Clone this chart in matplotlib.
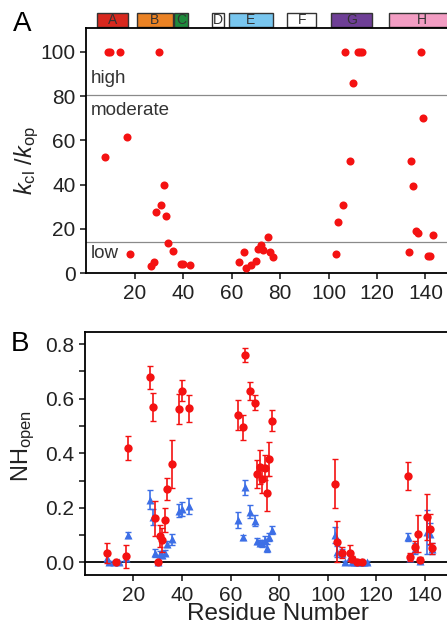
import matplotlib
matplotlib.use("Agg")
import matplotlib.pyplot as plt
from matplotlib.patches import Rectangle
from matplotlib.ticker import MultipleLocator

plt.rcParams['font.family'] = ['Liberation Sans', 'DejaVu Sans']
plt.rcParams['mathtext.fontset'] = 'custom'
plt.rcParams['mathtext.rm'] = 'Liberation Sans'
plt.rcParams['mathtext.it'] = 'Liberation Sans:italic'

# helix segments (start, end residue)
helix_names = ['A', 'B', 'C', 'D', 'E', 'F', 'G', 'H']
helix_start = [4.5, 21, 36.3, 52, 59, 83, 101, 125]
helix_end = [17.3, 35.9, 42, 57, 77, 95, 118, 152]
helix_colors = ['#d8281e', '#ea8224', '#1e8a3c', '#ffffff', '#78c6ef', '#ffffff', '#6e3f96', '#f29dc3']

# panel A: kcl/kop per residue
kratio_res = [8, 9, 10, 14, 17, 18, 27, 28, 29, 30, 31, 32, 33, 34, 36, 39, 40, 43,
              63, 65, 66, 68, 70, 71, 72, 73, 75, 76, 77,
              103, 104, 106, 107, 109, 110, 112, 113, 114,
              133, 134, 135, 136, 137, 138, 139, 141, 142, 143]
kratio_val = [52.7, 100, 100, 100, 61.4, 8.9, 3.3, 5.1, 27.5, 100, 31, 40, 26, 13.7, 10, 4, 4, 3.7,
              5.3, 9.6, 2.6, 3.9, 5.5, 11.1, 12.6, 10.4, 16.4, 9.6, 7.3,
              8.9, 23.1, 30.8, 100, 50.5, 85.9, 100, 100, 100,
              9.6, 50.5, 39.6, 18.9, 18.2, 100, 70.1, 8, 8, 17.4]
high_cut = 80.5
low_cut = 14

# panel B: NH open fraction, red circles
red_res = [9, 13, 17, 18, 27, 28, 29, 30, 31, 32, 33, 34, 36, 39, 40, 43,
           63, 65, 66, 68, 70, 71, 72, 73, 74, 75, 76, 77,
           103, 104, 106, 109, 110, 112, 114,
           133, 134, 136, 137, 138, 141, 142, 143]
red_val = [0.033, 0.0, 0.022, 0.42, 0.678, 0.571, 0.161, 0.0, 0.097, 0.082, 0.155, 0.268, 0.36, 0.561, 0.63, 0.565,
           0.539, 0.495, 0.761, 0.629, 0.586, 0.324, 0.351, 0.306, 0.347, 0.253, 0.379, 0.519,
           0.288, 0.076, 0.035, 0.034, 0.012, 0.0, 0.0,
           0.317, 0.02, 0.057, 0.104, 0.01, 0.167, 0.121, 0.051]
red_err = [0.037, 0.005, 0.042, 0.043, 0.043, 0.051, 0.065, 0.005, 0.04, 0.045, 0.045, 0.04, 0.088, 0.055, 0.04, 0.05,
           0.055, 0.046, 0.025, 0.033, 0.026, 0.052, 0.062, 0.05, 0.046, 0.064, 0.064, 0.038,
           0.09, 0.075, 0.02, 0.03, 0.01, 0.005, 0.005,
           0.052, 0.015, 0.02, 0.068, 0.01, 0.085, 0.055, 0.02]

# panel B: blue triangles
blue_res = [9, 10, 12, 14, 17, 18, 27, 28, 29, 30, 31, 32, 33, 34, 36, 39, 40, 43,
            63, 65, 66, 68, 70, 71, 72, 73, 74, 75, 76, 77,
            103, 104, 106, 107, 109, 110, 111, 112, 113, 114, 115, 116,
            133, 134, 136, 138, 141, 142, 143]
blue_val = [0.015, 0.0, 0.0, 0.0, 0.015, 0.1, 0.23, 0.167, 0.035, 0.0, 0.03, 0.028, 0.035, 0.068, 0.084, 0.19, 0.195, 0.207,
            0.155, 0.092, 0.275, 0.186, 0.153, 0.079, 0.072, 0.07, 0.082, 0.051, 0.094, 0.118,
            0.1, 0.039, 0.033, 0.0, 0.02, 0.0, 0.0, 0.0, 0.0, 0.0, 0.0, 0.0,
            0.094, 0.015, 0.05, 0.003, 0.112, 0.105, 0.05]
blue_err = [0.01, 0.005, 0.005, 0.005, 0.01, 0.012, 0.034, 0.03, 0.015, 0.005, 0.01, 0.012, 0.01, 0.012, 0.02, 0.025, 0.025, 0.028,
            0.028, 0.01, 0.028, 0.025, 0.02, 0.012, 0.01, 0.012, 0.015, 0.015, 0.015, 0.015,
            0.03, 0.02, 0.015, 0.005, 0.01, 0.005, 0.005, 0.005, 0.005, 0.005, 0.005, 0.005,
            0.015, 0.01, 0.02, 0.005, 0.08, 0.04, 0.02]

RED = '#f41212'
BLUE = '#3d6fe6'
TXT = '#222222'

fig = plt.figure(figsize=(4.47, 6.30), dpi=100)
axA = fig.add_axes([0.1924, 0.5662, 0.868, 0.3889])
axB = fig.add_axes([0.1895, 0.0868, 0.8698, 0.3867])

for ax in (axA, axB):
    ax.set_xlim(0, 160)
    ax.set_xticks([20, 40, 60, 80, 100, 120, 140])
    ax.spines['right'].set_visible(False)
    for s in ('left', 'bottom', 'top'):
        ax.spines[s].set_linewidth(1.3)
    ax.tick_params(axis='both', which='both', direction='out', length=4, width=1.2,
                   labelsize=15, colors=TXT)

# panel A
axA.set_ylim(0, 110.6)
axA.set_yticks([0, 20, 40, 60, 80, 100])
axA.axhline(high_cut, color='#8a8a8a', lw=0.9, zorder=1)
axA.axhline(low_cut, color='#8a8a8a', lw=0.9, zorder=1)
axA.plot(kratio_res, kratio_val, 'o', color=RED, ms=5.8, mec='none', zorder=3)
axA.text(1.8, 88, 'high', fontsize=13.5, color='#333333', va='center')
axA.text(1.8, 73.5, 'moderate', fontsize=13.5, color='#333333', va='center')
axA.text(1.8, 8.8, 'low', fontsize=13.5, color='#333333', va='center')

trans = axA.get_xaxis_transform()
for name, x0, x1, c in zip(helix_names, helix_start, helix_end, helix_colors):
    axA.add_patch(Rectangle((x0, 1.0065), x1 - x0, 0.0545, transform=trans, clip_on=False,
                            facecolor=c, edgecolor='#333333', lw=1.0))
    axA.text((x0 + x1) / 2, 1.0065 + 0.0545 / 2, name, transform=trans, ha='center', va='center',
             fontsize=10, color='#333333', clip_on=False)

# panel B
axB.set_ylim(-0.0477, 0.846)
axB.set_yticks([0.0, 0.2, 0.4, 0.6, 0.8])
axB.yaxis.set_minor_locator(MultipleLocator(0.1))
axB.set_yticklabels(['0.0', '0.2', '0.4', '0.6', '0.8'])
axB.axhline(0, color='black', lw=1.3, zorder=1)
axB.errorbar(blue_res, blue_val, yerr=blue_err, fmt='^', color=BLUE, ms=6.2, mec='none',
             elinewidth=1.2, capsize=2.0, capthick=1.0, zorder=3)
axB.errorbar(red_res, red_val, yerr=red_err, fmt='o', color=RED, ms=6.0, mec='none',
             elinewidth=1.2, capsize=2.0, capthick=1.0, zorder=4)

fig.text(27 / 447, 1 - 160 / 630, r'$k_{\rm cl}$ /$k_{\rm op}$', rotation=90,
         ha='center', va='center', fontsize=17, color=TXT)
fig.text(23 / 447, 1 - 446 / 630, r'NH$_{\rm open}$', rotation=90,
         ha='center', va='center', fontsize=17, color=TXT)
fig.text(278 / 447, 1 - 614 / 630, 'Residue Number', ha='center', va='center',
         fontsize=17.5, color=TXT)
fig.text(22 / 447, 1 - 24 / 630, 'A', ha='center', va='center', fontsize=20, color='black')
fig.text(20 / 447, 1 - 344 / 630, 'B', ha='center', va='center', fontsize=20, color='black')

fig.savefig('out.png', dpi=100)
